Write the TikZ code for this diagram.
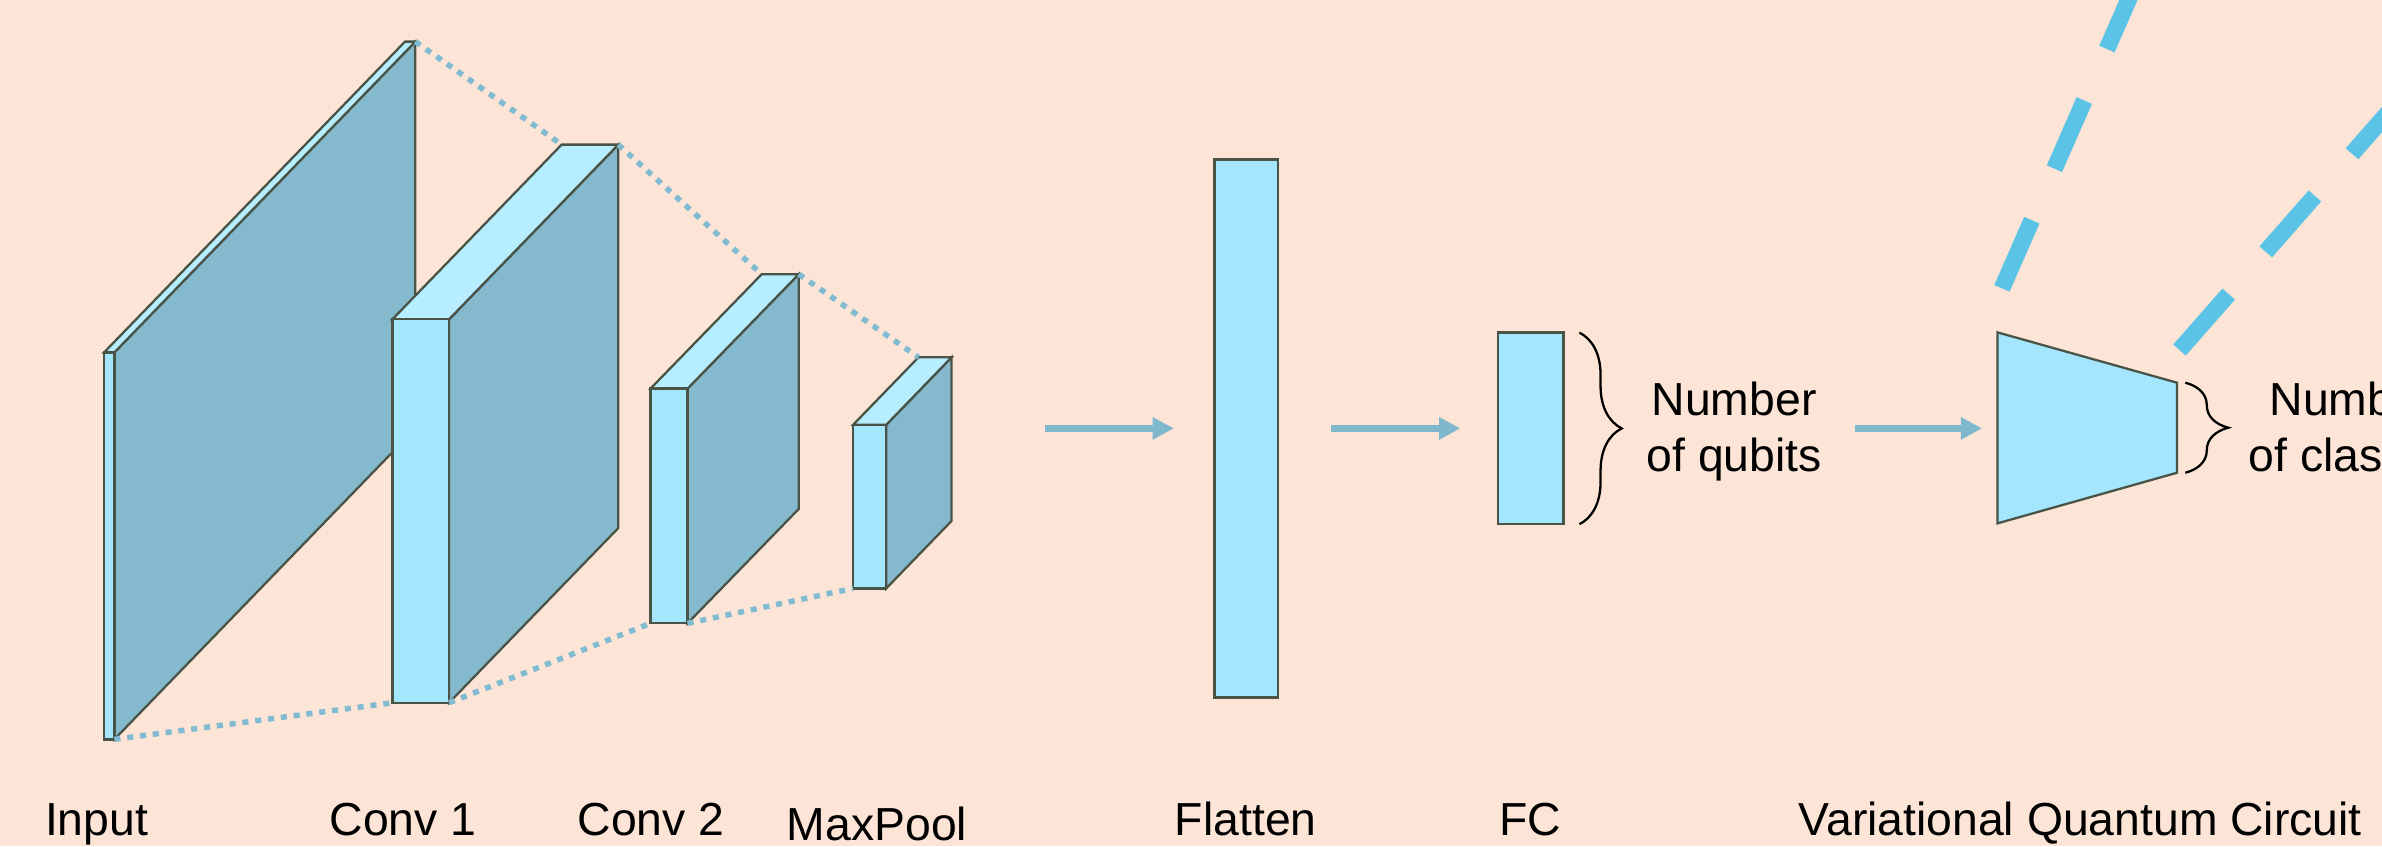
\documentclass[tikz,border=0pt]{standalone}
\usepackage{fontspec}
\setmainfont{Liberation Sans}
\usetikzlibrary{calc,arrows.meta,decorations.pathreplacing}
\definecolor{bgc}{HTML}{FCE4D6}
\definecolor{frontc}{HTML}{A4E6FE}
\definecolor{topc}{HTML}{B6EDFF}
\definecolor{sidec}{HTML}{84B9CE}
\definecolor{edgec}{HTML}{4A5446}
\definecolor{arrowc}{HTML}{7FB7CC}
\definecolor{dotc}{HTML}{80BBD1}
\definecolor{dashc}{HTML}{5BC4E6}
\newcommand{\layerbox}[7]{%
  \coordinate (#1-ftl) at (#2,#4);
  \coordinate (#1-ftr) at (#3,#4);
  \coordinate (#1-fbl) at (#2,#5);
  \coordinate (#1-fbr) at (#3,#5);
  \coordinate (#1-btl) at ($(#1-ftl)+(#6,#7)$);
  \coordinate (#1-btr) at ($(#1-ftr)+(#6,#7)$);
  \coordinate (#1-bbr) at ($(#1-fbr)+(#6,#7)$);
  \filldraw[sideface] (#1-ftr) -- (#1-btr) -- (#1-bbr) -- (#1-fbr) -- cycle;
  \filldraw[topface] (#1-ftl) -- (#1-btl) -- (#1-btr) -- (#1-ftr) -- cycle;
  \filldraw[frontface] (#1-ftl) rectangle (#1-fbr);
}
\begin{document}
\begin{tikzpicture}[x=1pt,y=-1pt,
  sideface/.style={fill=sidec,draw=edgec,line width=1.5pt,line join=miter},
  topface/.style={fill=topc,draw=edgec,line width=1.5pt,line join=miter},
  frontface/.style={fill=frontc,draw=edgec,line width=1.5pt,line join=miter},
  boxn/.style={rectangle,fill=frontc,draw=edgec,line width=1.5pt,inner sep=0pt,outer sep=0pt},
  dotl/.style={draw=dotc,line width=3.6pt,dash pattern=on 4pt off 4.5pt},
  arr/.style={draw=arrowc,line width=4.8pt,-{Triangle[length=14pt,width=14pt]}},
  brc/.style={draw=black,line width=1.5pt,decorate},
  vqcdash/.style={draw=dashc,line width=11pt,dash pattern=on 49pt off 37pt},
  lbl/.style={font=\fontsize{30.5}{36}\selectfont,inner sep=0pt,anchor=base,text=black}]
\useasboundingbox (0,0) rectangle (1568,557);
\fill[bgc] (0,0) rectangle (1568,557);
\begin{scope}
\clip (0,0) rectangle (1568,557);
% CNN layers
\layerbox{in}{68.5}{75.3}{232}{486.7}{198.1}{-204.6}
\layerbox{ca}{258.3}{295.6}{210.2}{462.6}{111.4}{-115}
\layerbox{cb}{428.2}{452.6}{255.8}{410.3}{73.2}{-75.3}
\layerbox{mp}{561.6}{583.4}{279.6}{387.3}{43}{-44.4}
% dotted projections
\draw[dotl] (in-btr) -- (ca-btl);
\draw[dotl] (ca-btr) -- (cb-btl);
\draw[dotl] (cb-btr) -- (mp-btl);
\draw[dotl] (in-fbr) -- (ca-fbl);
\draw[dotl] (ca-fbr) -- (cb-fbl);
\draw[dotl] (cb-fbr) -- (mp-fbl);
% flatten and FC
\coordinate (mp-r) at (626.4,282);
\node[boxn,minimum width=42pt,minimum height=354.2pt] (flat) at (820.4,282) {};
\node[boxn,minimum width=42.9pt,minimum height=126.1pt] (fc) at (1007.65,282) {};
% VQC trapezoid
\coordinate (vqc-tl) at (1314.9,218.8);
\coordinate (vqc-tr) at (1433,251.9);
\coordinate (vqc-br) at (1433,311.2);
\coordinate (vqc-bl) at (1314.9,344.5);
\coordinate (vqc-w) at (1314.9,282);
\filldraw[frontface] (vqc-tl) -- (vqc-tr) -- (vqc-br) -- (vqc-bl) -- cycle;
% arrows
\draw[arr,shorten <=61.6pt,shorten >=26.7pt] (mp-r) -- (flat.west);
\draw[arr,shorten <=34.9pt,shorten >=24.9pt] (flat.east) -- (fc.west);
\draw[arr,shorten <=191.7pt,shorten >=10.2pt] (fc.east) -- (vqc-w);
% braces
\draw[brc,decoration={brace,amplitude=27.8pt}] ([xshift=10.6pt]fc.north east) -- ([xshift=10.6pt]fc.south east);
\draw[brc,decoration={brace,amplitude=28.3pt}] ([xshift=5.5pt]vqc-tr) -- ([xshift=5.5pt]vqc-br);
% brace texts
\node[lbl] (q1) at (1141.5,273.2) {Number};
\node[lbl] (q2) at (1141.5,310.5) {of qubits};
\node[lbl] (k1) at (1548.2,273.2) {Number};
\node[lbl] (k2) at (1548.2,310.5) {of classes};
% dashed zoom lines
\coordinate (dl0) at ($(vqc-tl)+(2.9,-29)$);
\coordinate (dl1) at ($(dl0)+(104.5,-238.2)$);
\coordinate (dr0) at ($(vqc-tr)+(1.7,-21.5)$);
\coordinate (dr1) at ($(dr0)+(171.6,-195.3)$);
\draw[vqcdash] (dl0) -- (dl1);
\draw[vqcdash] (dr0) -- (dr1);
% labels
\node[lbl] (t-in) at (63.6,549.7) {Input};
\node[lbl] (t-c1) at (265.3,549.7) {Conv 1};
\node[lbl] (t-c2) at (428.5,549.7) {Conv 2};
\node[lbl] (t-mp) at (577.3,553) {MaxPool};
\node[lbl] (t-fl) at (820,549.7) {Flatten};
\node[lbl] (t-fc) at (1007.3,549.7) {FC};
\node[lbl] (t-vq) at (1369.4,549.7) {Variational Quantum Circuit};
\end{scope}
\end{tikzpicture}
\end{document}
